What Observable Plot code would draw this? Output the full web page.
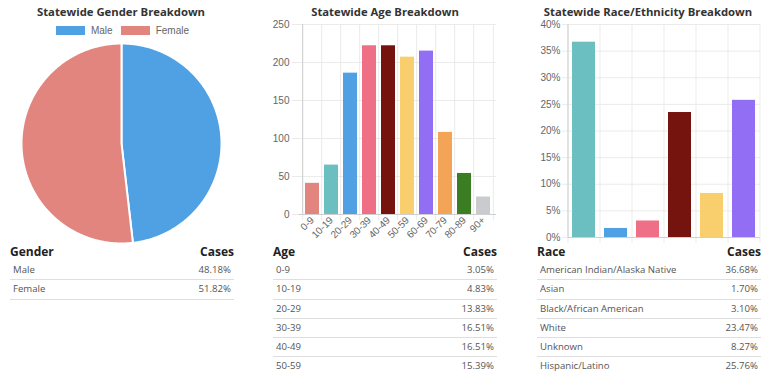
<!DOCTYPE html>
<html>
<head>
<meta charset="utf-8">
<script src="https://cdn.jsdelivr.net/npm/d3@7"></script>
<script src="https://cdn.jsdelivr.net/npm/@observablehq/plot@0.6"></script>
<style>
  html, body { margin: 0; padding: 0; background: #fff; }
  body { width: 768px; height: 374px; position: relative; overflow: hidden; }
  .title { position: absolute; top: 3px; height: 18px; line-height: 18px; text-align: center;
           font-family: "Open Sans", sans-serif; font-weight: 700; font-size: 11.3px; color: #333; white-space: nowrap; }
  .legend { position: absolute; top: 25px; left: 0; width: 245px; display: flex; justify-content: center;
            font-family: "Liberation Sans", Arial, sans-serif; font-size: 10px; color: #666; }
  .legend .item { display: flex; align-items: center; margin: 0 4px; }
  .legend .sw { width: 29px; height: 9px; margin-right: 6px; }
  .tbl { position: absolute; top: 243px; font-family: "Open Sans", sans-serif; }
  .tbl .hd { display: flex; justify-content: space-between; height: 18px; line-height: 18px;
             font-weight: 700; font-size: 12px; color: #222; }
  .tbl .row { display: flex; justify-content: space-between; height: 18.3px; line-height: 18.3px;
              border-bottom: 1px solid #dedede; font-size: 9.6px; color: #555; padding: 0 3px; }
</style>
</head>
<body>
<script>
// ---------------- Data ----------------
const genderLabels = ["Male", "Female"];
const genderShare = [48.18, 51.82];
const genderColors = ["#4fa1e3", "#e3857f"];

const ageGroups = ["0-9", "10-19", "20-29", "30-39", "40-49", "50-59", "60-69", "70-79", "80-89", "90+"];
const ageCounts = [41, 65, 186, 222, 222, 207, 215, 108, 54, 23];
const ageShare = ["3.05%", "4.83%", "13.83%", "16.51%", "16.51%", "15.39%"];
const ageColors = ["#e3857f", "#6cbfc0", "#4fa1e3", "#ef6f87", "#75130f", "#f9cf6e", "#926ef5", "#f3a456", "#3a7d22", "#c9cbcf"];
const ageTicks = [0, 50, 100, 150, 200, 250];

const raceLabels = ["American Indian/Alaska Native", "Asian", "Black/African American", "White", "Unknown", "Hispanic/Latino"];
const raceShare = [36.68, 1.70, 3.10, 23.47, 8.27, 25.76];
const raceColors = ["#6cbfc0", "#4fa1e3", "#ef6f87", "#75130f", "#f9cf6e", "#926ef5"];
const raceTicks = [0, 5, 10, 15, 20, 25, 30, 35, 40];

const titles = ["Statewide Gender Breakdown", "Statewide Age Breakdown", "Statewide Race/Ethnicity Breakdown"];

// ---------------- Helpers ----------------
const GRID = "#ebebeb";
const AXIS = "#cfcfcf";
const TICKFONT = {fontFamily: "Liberation Sans, Arial, sans-serif", fontSize: "10px", color: "#666", background: "transparent", overflow: "visible"};

function place(el, left, top) {
  el.style.position = "absolute";
  el.style.left = left + "px";
  el.style.top = top + "px";
  document.body.appendChild(el);
}
function addTitle(text, center, width) {
  const d = document.createElement("div");
  d.className = "title";
  d.textContent = text;
  d.style.left = (center - width / 2) + "px";
  d.style.width = width + "px";
  document.body.appendChild(d);
}
function addTable(left, width, head1, labels, values) {
  const t = document.createElement("div");
  t.className = "tbl";
  t.style.left = left + "px";
  t.style.width = width + "px";
  const hd = document.createElement("div");
  hd.className = "hd";
  hd.innerHTML = `<span>${head1}</span><span>Cases</span>`;
  t.appendChild(hd);
  values.forEach((v, i) => {
    const r = document.createElement("div");
    r.className = "row";
    r.innerHTML = `<span>${labels[i]}</span><span>${v}</span>`;
    t.appendChild(r);
  });
  document.body.appendChild(t);
}

// ---------------- Titles ----------------
addTitle(titles[0], 121, 245);
addTitle(titles[1], 385, 250);
addTitle(titles[2], 648, 250);

// ---------------- Gender pie ----------------
const pieArcs = d3.pie().sort(null)(genderShare);
const piePts = [];
pieArcs.forEach((a, i) => {
  const key = genderLabels[i];
  piePts.push({key, x: 0, y: 0});
  const n = Math.max(2, Math.ceil((a.endAngle - a.startAngle) / (Math.PI / 360)));
  for (let k = 0; k <= n; k++) {
    const t = a.startAngle + (a.endAngle - a.startAngle) * k / n;
    piePts.push({key, x: Math.sin(t), y: Math.cos(t)});
  }
  piePts.push({key, x: 0, y: 0});
});
const pie = Plot.plot({
  width: 245, height: 206,
  marginTop: 3, marginBottom: 3, marginLeft: 21, marginRight: 24,
  x: {domain: [-1, 1], axis: null},
  y: {domain: [-1, 1], axis: null},
  color: {domain: genderLabels, range: genderColors},
  style: TICKFONT,
  marks: [
    Plot.line(piePts, {x: "x", y: "y", z: "key", fill: "key", stroke: "#fff", strokeWidth: 2, strokeLinejoin: "round"})
  ]
});
place(pie, 0, 40);

// legend
const leg = document.createElement("div");
leg.className = "legend";
genderLabels.forEach((l, i) => {
  const it = document.createElement("div");
  it.className = "item";
  it.innerHTML = `<span class="sw" style="background:${genderColors[i]}"></span><span>${l}</span>`;
  leg.appendChild(it);
});
document.body.appendChild(leg);

addTable(10, 224, "Gender", genderLabels, genderShare.map(v => v.toFixed(2) + "%"));

// ---------------- Age bars ----------------
{
  const W = 250, H = 250, mL = 39, mR = 14, mT = 24, mB = 36;
  const step = (W - mL - mR) / ageGroups.length;
  const rows = ageGroups.map((g, i) => ({group: g, count: ageCounts[i]}));
  const chart = Plot.plot({
    width: W, height: H, marginLeft: mL, marginRight: mR, marginTop: mT, marginBottom: mB,
    x: {domain: ageGroups, paddingInner: 0.28, paddingOuter: 0.14},
    y: {domain: [0, 250]},
    color: {domain: ageGroups, range: ageColors},
    style: TICKFONT,
    marks: [
      Plot.ruleY(ageTicks.slice(1), {stroke: GRID}),
      Plot.ruleX(ageGroups, {x: d => d, dx: -step / 2, stroke: GRID, insetBottom: -6}),
      Plot.ruleX(ageGroups.slice(-1), {x: d => d, dx: step / 2, stroke: GRID, insetBottom: -6}),
      Plot.axisY({ticks: ageTicks, tickSize: 7, tickPadding: 3, stroke: GRID, fill: "#666", label: null}),
      Plot.barY(rows, {x: "group", y: "count", fill: "group"}),
      Plot.ruleX(ageGroups.slice(0, 1), {x: d => d, dx: -step / 2, stroke: AXIS}),
      Plot.ruleY([0], {stroke: AXIS}),
      Plot.axisX({tickRotate: -45, tickSize: 0, tickPadding: 4, fill: "#666", label: null})
    ]
  });
  place(chart, 260, 0);
}
addTable(273, 224, "Age", ageGroups, ageShare);

// ---------------- Race bars ----------------
{
  const W = 248, H = 250, mL = 48, mR = 8, mT = 24, mB = 13;
  const step = (W - mL - mR) / raceLabels.length;
  const rows = raceLabels.map((g, i) => ({race: g, pct: raceShare[i]}));
  const chart = Plot.plot({
    width: W, height: H, marginLeft: mL, marginRight: mR, marginTop: mT, marginBottom: mB,
    x: {domain: raceLabels, paddingInner: 0.28, paddingOuter: 0.14, axis: null},
    y: {domain: [0, 40]},
    color: {domain: raceLabels, range: raceColors},
    style: TICKFONT,
    marks: [
      Plot.ruleY(raceTicks.slice(1), {stroke: GRID}),
      Plot.ruleX(raceLabels, {x: d => d, dx: -step / 2, stroke: GRID, insetBottom: -6}),
      Plot.ruleX(raceLabels.slice(-1), {x: d => d, dx: step / 2, stroke: GRID, insetBottom: -6}),
      Plot.axisY({ticks: raceTicks, tickSize: 6, tickPadding: 2, stroke: GRID, fill: "#666", label: null, tickFormat: d => d + "%"}),
      Plot.barY(rows, {x: "race", y: "pct", fill: "race"}),
      Plot.ruleX(raceLabels.slice(0, 1), {x: d => d, dx: -step / 2, stroke: AXIS}),
      Plot.ruleY([0], {stroke: AXIS})
    ]
  });
  place(chart, 520, 0);
}
addTable(537, 224, "Race", raceLabels, raceShare.map(v => v.toFixed(2) + "%"));
</script>
</body>
</html>
